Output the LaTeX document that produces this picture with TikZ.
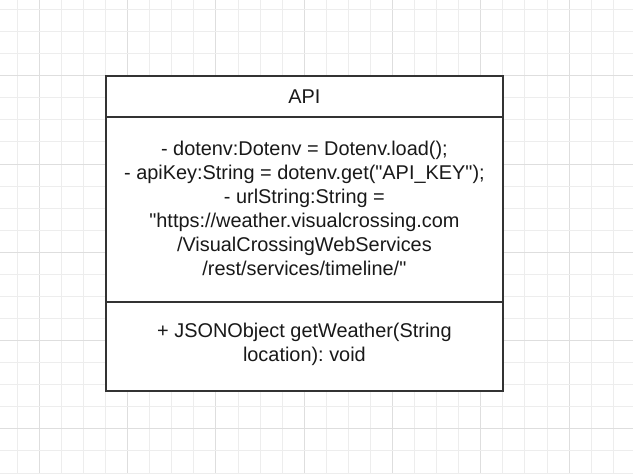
\documentclass[tikz,border=0pt]{standalone}
\usepackage{fontspec}
\setmainfont{Liberation Sans}[Ligatures=TeXOff]
\begin{document}
\begin{tikzpicture}[x=1pt,y=-1pt,
  minorgrid/.style={draw=black!7,line width=0.9pt},
  majorgrid/.style={draw=black!13,line width=0.9pt},
  compartment/.style={draw=black!80,line width=2pt,fill=white,minimum width=397.8pt,
    inner sep=0pt,outer sep=0pt,align=center,font=\fontsize{19.9}{24}\selectfont\frenchspacing,text=black!90}]
\useasboundingbox[fill=white] (0,0) rectangle (633,474);
\foreach \k in {0,...,27}{
  \pgfmathtruncatemacro\m{mod(\k,4)}
  \ifnum\m=1 \def\st{majorgrid}\else\def\st{minorgrid}\fi
  \draw[\st] (17.3+\k*22.07,0) -- (17.3+\k*22.07,474);
}
\foreach \k in {0,...,21}{
  \pgfmathtruncatemacro\m{mod(\k,4)}
  \ifnum\m=3 \def\st{majorgrid}\else\def\st{minorgrid}\fi
  \draw[\st] (0,9.5+\k*22.07) -- (633,9.5+\k*22.07);
}
\node[compartment,minimum height=41pt] (title) at (304.4,96.2) {API};
\node[compartment,minimum height=185.3pt] (attrs) at (304.4,209.35) {};
\node[compartment,minimum height=88.7pt] (methods) at (304.4,346.35) {};
\node[compartment,draw=none,fill=none,anchor=center] (attrtext) at (304.4,208) {- dotenv:Dotenv = Dotenv.load();\\- apiKey:String = dotenv.get("API\_KEY");\\- urlString:String =\\"https://weather.visualcrossing.com\\/VisualCrossingWebServices\\/rest/services/timeline/"};
\node[compartment,draw=none,fill=none,anchor=center] (methtext) at (304.4,344) {+ JSONObject getWeather(String\\location): void};
\end{tikzpicture}
\end{document}
